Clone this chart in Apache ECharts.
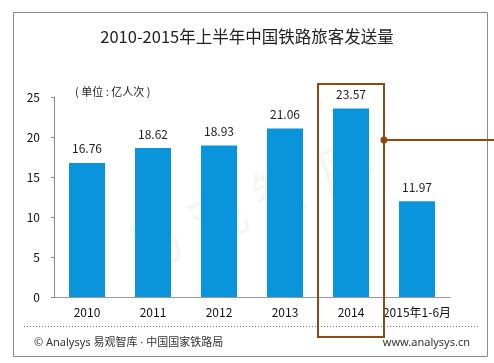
<!DOCTYPE html>
<html><head><meta charset="utf-8">
<script src="https://cdn.jsdelivr.net/npm/echarts@6/dist/echarts.min.js"></script>
<style>html,body{margin:0;padding:0;background:#fff}#c{width:494px;height:363px}</style>
</head><body><div id="c"></div>
<script>
const categories = ['2010','2011','2012','2013','2014','2015年1-6月'];
const values = [16.76, 18.62, 18.93, 21.06, 23.57, 11.97];
const yTicks = [0, 5, 10, 15, 20, 25];
const titleText = '2010-2015年上半年中国铁路旅客发送量';
const unitText = '( 单位 : 亿人次 )';
const sourceText = '© Analysys 易观智库 · 中国国家铁路局';
const siteText = 'www.analysys.cn';
const highlightIndex = 4;

const font = '"Noto Sans CJK SC", "Noto Sans", sans-serif';
const latinFont = '"Noto Sans", "Noto Sans CJK SC", sans-serif';
const chart = echarts.init(document.getElementById('c'), null, {renderer: 'canvas'});
const option = {
  animation: false,
  textStyle: {fontFamily: font},
  title: {text: titleText, left: 'center', top: 23, textStyle: {fontSize: 16.5, fontWeight: 'normal', color: '#222', fontFamily: font}},
  grid: {left: 54, right: 44, top: 97, bottom: 66},
  xAxis: {
    type: 'category', data: categories,
    axisLine: {lineStyle: {color: '#999'}},
    axisTick: {show: false},
    axisLabel: {interval: 0, color: '#111', fontSize: 12, margin: 9, fontFamily: font, overflow: 'none', hideOverlap: false}
  },
  yAxis: {
    type: 'value', min: yTicks[0], max: yTicks[yTicks.length-1], interval: 5,
    axisLine: {show: true, lineStyle: {color: '#888'}},
    axisTick: {show: true, length: 3, lineStyle: {color: '#888'}},
    splitLine: {show: false},
    axisLabel: {color: '#111', fontSize: 12, margin: 14, fontFamily: font}
  },
  series: [{
    type: 'bar', data: values, barWidth: 36,
    itemStyle: {color: '#0994DC'},
    label: {show: true, position: 'top', distance: 8, color: '#222', fontSize: 12, fontFamily: font}
  }]
};
chart.setOption(option);

const cx = chart.convertToPixel({xAxisIndex: 0}, categories[highlightIndex]);
const c0 = chart.convertToPixel({xAxisIndex: 0}, categories[0]);
const c1 = chart.convertToPixel({xAxisIndex: 0}, categories[1]);
const band = c1 - c0;
const brown = '#8E4A16';
chart.setOption({
  graphic: [
    {type: 'text', z: -10, x: 118, y: 228, rotation: Math.PI/8,
      style: {text: '易 观 智 库', fontSize: 56, fill: 'rgba(0,0,0,0.04)', fontFamily: font}},
    {type: 'rect', shape: {x: 13.5, y: 12.5, width: 474, height: 344}, style: {fill: 'none', stroke: '#8a8a8a', lineWidth: 1}, z: 1},
    {type: 'text', left: 75, top: 86, style: {text: unitText, fontSize: 11, fill: '#222', fontFamily: font}},
    {type: 'line', shape: {x1: 24, y1: 326.5, x2: 480, y2: 326.5}, style: {stroke: '#777', lineWidth: 1, lineDash: [1, 2]}},
    {type: 'text', left: 34, top: 337, style: {text: sourceText, fontSize: 11, fill: '#333', fontFamily: latinFont}},
    {type: 'text', right: 24, top: 337, style: {text: siteText, fontSize: 11, fill: '#333', fontFamily: latinFont}},
    {type: 'rect', shape: {x: cx - band/2, y: 84, width: band, height: 253}, style: {fill: 'none', stroke: brown, lineWidth: 2}, z: 10},
    {type: 'line', shape: {x1: cx + band/2, y1: 140, x2: 494, y2: 140}, style: {stroke: brown, lineWidth: 2}, z: 10},
    {type: 'circle', shape: {cx: cx + band/2, cy: 140, r: 3.5}, style: {fill: brown}, z: 11}
  ]
});
</script></body></html>
